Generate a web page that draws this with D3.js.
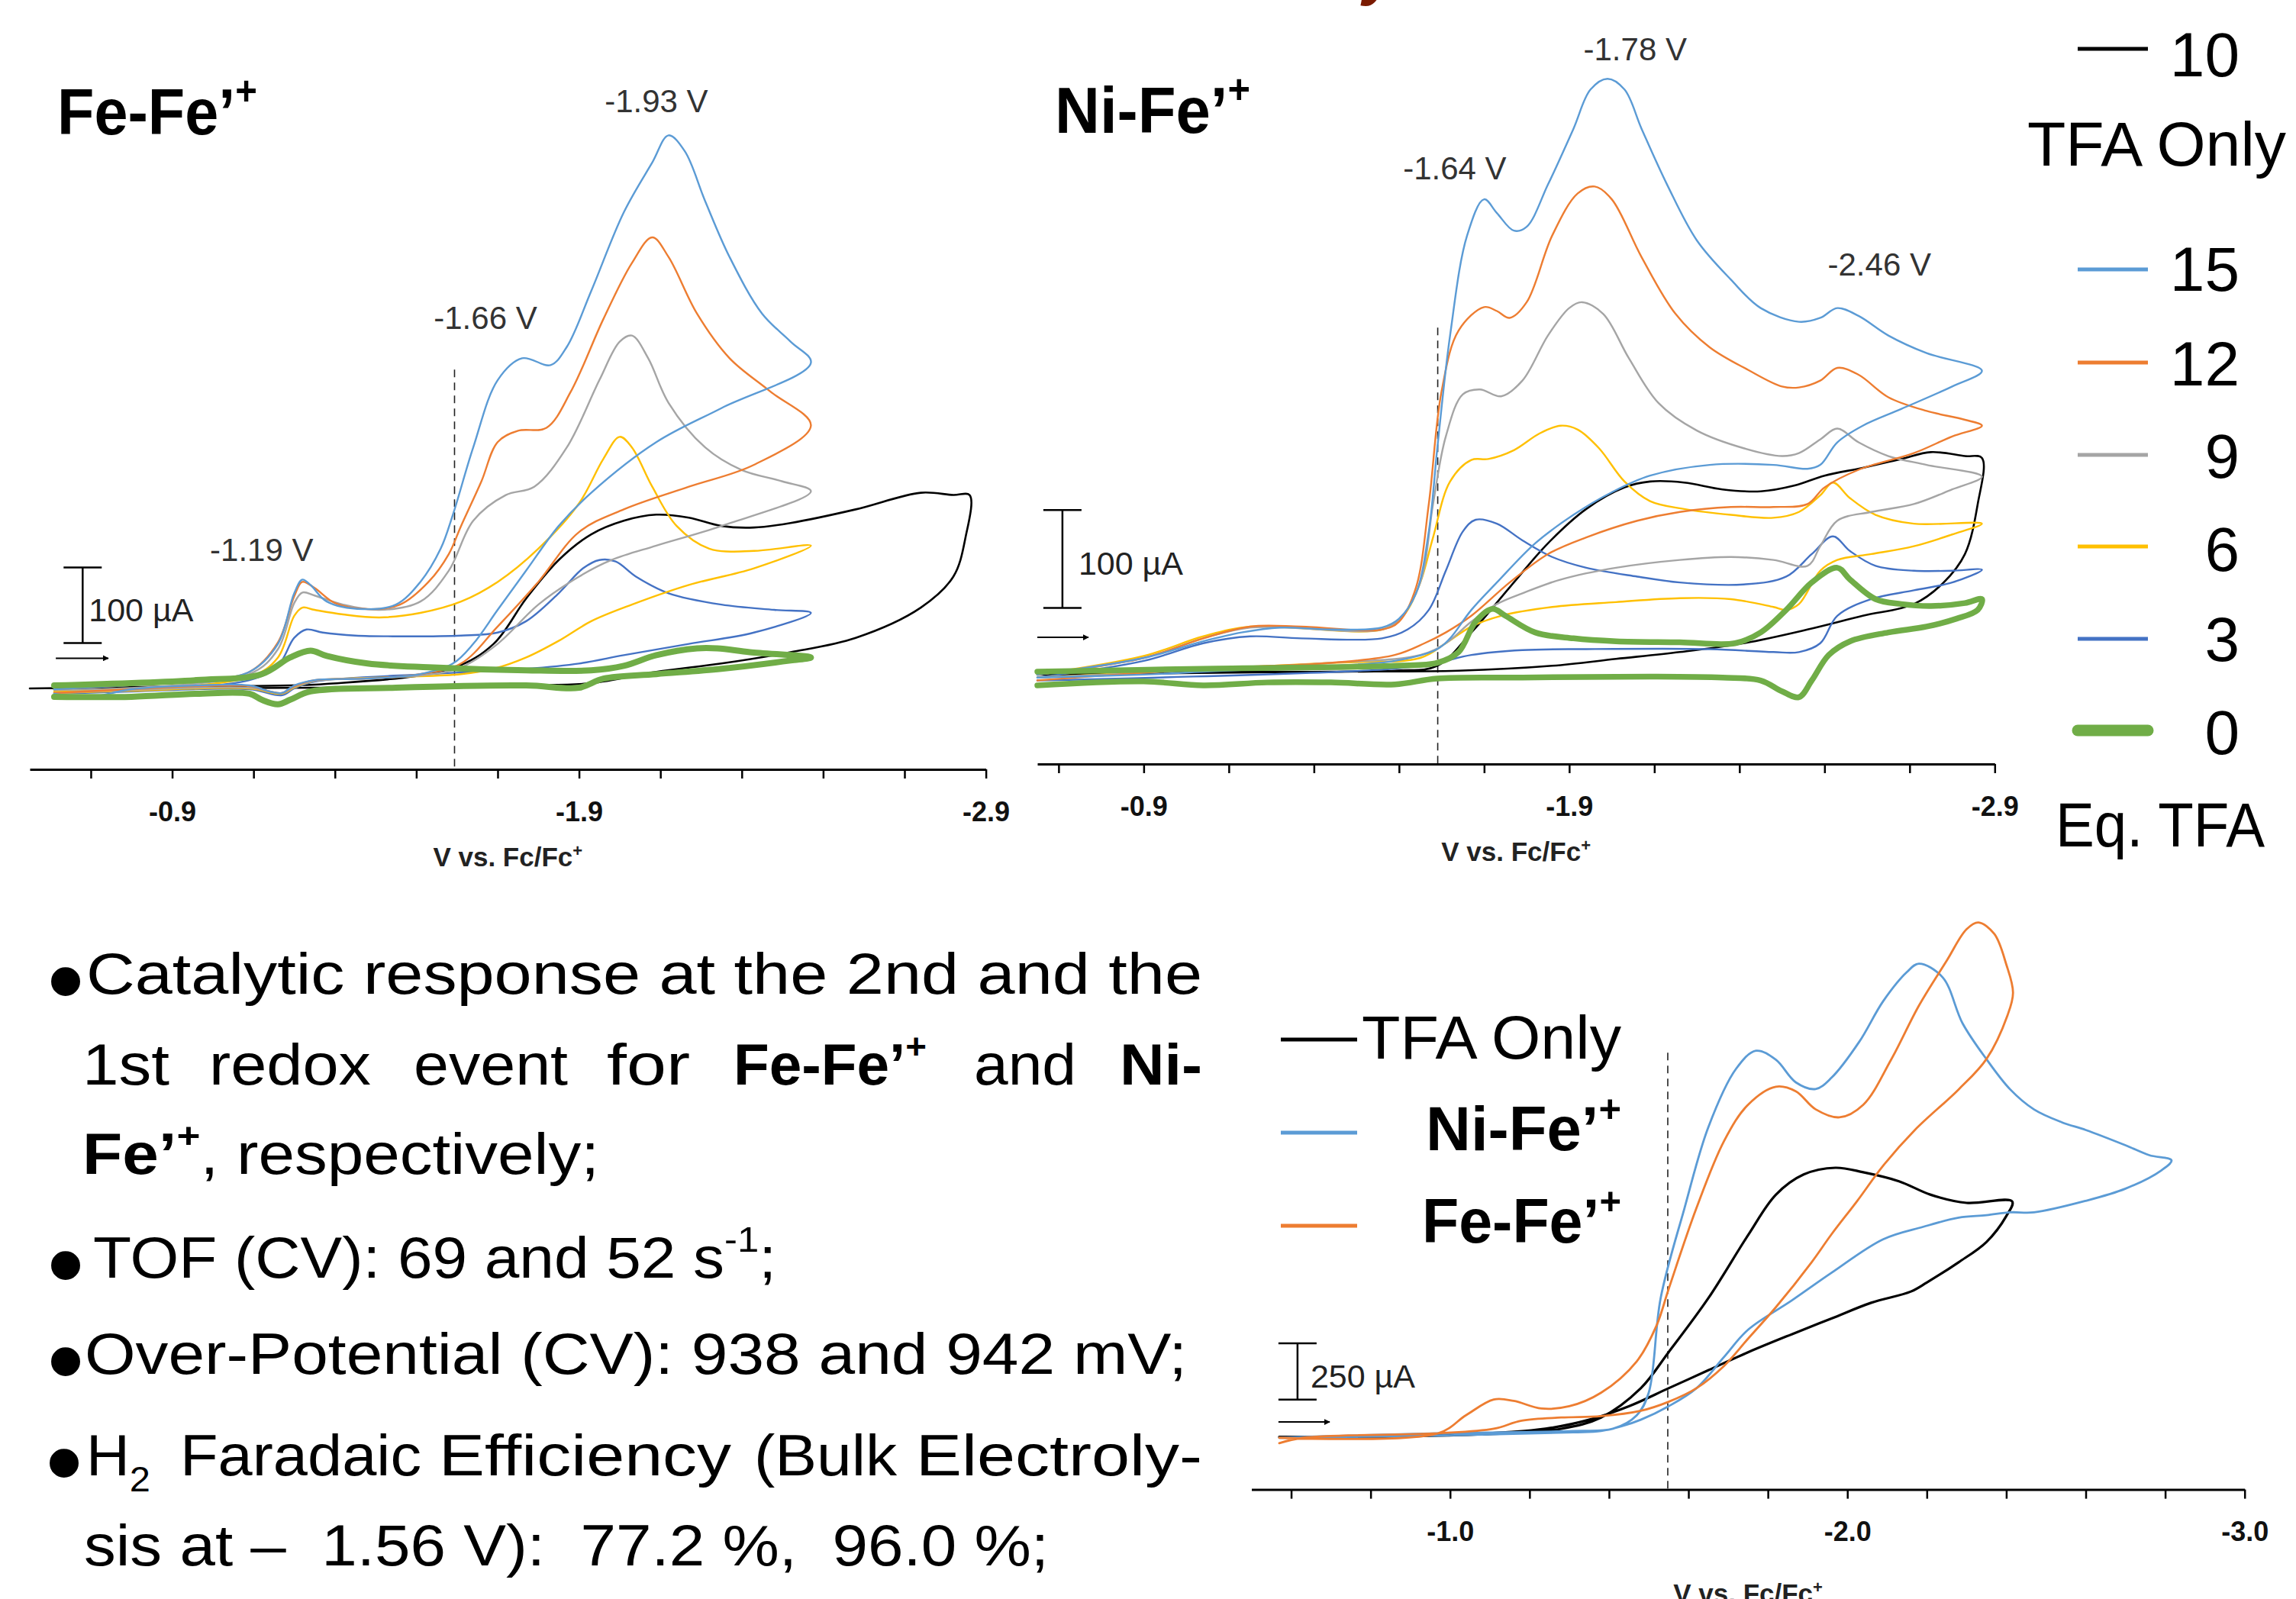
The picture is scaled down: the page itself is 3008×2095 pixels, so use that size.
<!DOCTYPE html>
<html>
<head>
<meta charset="utf-8">
<script src="https://cdn.jsdelivr.net/npm/d3@7"></script>
<style>
  body { margin: 0; background: #fff; }
  svg { display: block; }
  text { font-family: "Liberation Sans", Arial, sans-serif; }
</style>
</head>
<body>
<div id="chart"></div>
<script>
// CV traces: [potential V vs Fc/Fc+, current µA], forward scan then return scan

// Fe-Fe'+ panel
const feFeTfa = [[-0.55,0],[-0.96,3],[-1.28,6],[-1.59,27],[-1.69,59],[-1.77,119],[-1.85,170],[-1.93,204],[-2.01,222],[-2.09,230],[-2.17,226],[-2.25,215],[-2.33,213],[-2.42,219],[-2.58,237],[-2.74,259],[-2.82,256],[-2.86,256],
  [-2.85,200],[-2.82,148],[-2.74,107],[-2.58,67],[-2.42,48],[-2.25,33],[-2.09,22],[-1.93,7],[-1.77,4],[-1.59,1],[-1.28,1],[-0.61,-1]];
const feFe15 = [[-0.61,-1],[-0.96,11],[-1.09,22],[-1.16,59],[-1.20,126],[-1.22,144],[-1.24,137],[-1.28,115],[-1.37,105],[-1.45,111],[-1.51,141],[-1.56,185],[-1.59,230],[-1.64,319],[-1.70,408],[-1.76,437],[-1.83,428],[-1.87,452],[-1.93,526],[-2.01,630],[-2.08,696],[-2.12,732],[-2.16,711],[-2.21,645],[-2.27,571],[-2.35,496],[-2.42,459],[-2.47,431],
  [-2.25,371],[-2.09,326],[-1.93,259],[-1.85,215],[-1.77,156],[-1.70,104],[-1.64,59],[-1.59,33],[-1.51,19],[-1.38,13],[-1.25,11],[-1.20,4],[-1.17,-6],[-1.14,-4],[-1.09,4],[-0.96,4],[-0.80,-1],[-0.70,-11],[-0.61,-7]];
const feFe12 = [[-0.61,-1],[-0.96,11],[-1.09,22],[-1.16,61],[-1.20,122],[-1.22,141],[-1.25,133],[-1.30,113],[-1.38,105],[-1.46,111],[-1.53,141],[-1.58,178],[-1.61,215],[-1.66,274],[-1.70,326],[-1.75,341],[-1.82,345],[-1.88,393],[-1.96,489],[-2.03,563],[-2.08,597],[-2.12,571],[-2.19,496],[-2.27,437],[-2.37,393],[-2.47,348],
  [-2.33,296],[-2.17,267],[-2.01,237],[-1.90,207],[-1.80,141],[-1.70,82],[-1.61,33],[-1.51,19],[-1.38,13],[-1.25,11],[-1.20,3],[-1.17,-6],[-1.14,-4],[-1.09,3],[-0.96,3],[-0.80,-1],[-0.61,-6]];
const feFe9 = [[-0.61,-2],[-1.09,19],[-1.16,52],[-1.20,113],[-1.22,127],[-1.25,123],[-1.32,111],[-1.41,104],[-1.51,115],[-1.58,156],[-1.64,222],[-1.72,256],[-1.79,267],[-1.87,319],[-1.95,408],[-2.00,459],[-2.03,467],[-2.07,437],[-2.12,378],[-2.21,319],[-2.30,289],[-2.40,274],[-2.47,261],
  [-2.25,215],[-2.09,189],[-1.98,170],[-1.90,148],[-1.80,111],[-1.70,59],[-1.61,28],[-1.51,17],[-1.25,10],[-1.20,2],[-1.17,-6],[-1.09,1],[-0.80,-2],[-0.61,-6]];
const feFe6 = [[-0.61,-4],[-1.09,15],[-1.16,41],[-1.20,96],[-1.22,107],[-1.25,104],[-1.32,98],[-1.41,94],[-1.51,100],[-1.61,115],[-1.70,141],[-1.80,185],[-1.90,245],[-1.96,304],[-2.00,333],[-2.03,319],[-2.08,267],[-2.14,215],[-2.22,185],[-2.33,182],[-2.47,189],
  [-2.33,159],[-2.17,137],[-2.03,111],[-1.93,89],[-1.85,63],[-1.77,41],[-1.69,26],[-1.61,19],[-1.45,15],[-1.25,10],[-1.20,1],[-1.17,-7],[-1.09,0],[-0.80,-3],[-0.61,-6]];
const feFe3 = [[-0.61,-6],[-1.09,11],[-1.16,30],[-1.20,67],[-1.23,78],[-1.27,74],[-1.35,70],[-1.45,69],[-1.61,70],[-1.70,74],[-1.77,89],[-1.85,126],[-1.91,159],[-1.95,170],[-1.99,168],[-2.04,148],[-2.12,126],[-2.25,111],[-2.38,104],[-2.47,100],
  [-2.33,74],[-2.17,59],[-2.01,44],[-1.90,33],[-1.77,26],[-1.64,22],[-1.53,19],[-1.25,9],[-1.20,0],[-1.17,-9],[-1.09,-1],[-0.80,-4],[-0.61,-7]];
const feFe0 = [[-0.61,4],[-0.96,11],[-1.12,19],[-1.19,41],[-1.24,50],[-1.28,43],[-1.38,33],[-1.53,28],[-1.77,24],[-1.93,24],[-2.01,30],[-2.09,44],[-2.19,53],[-2.24,53],[-2.32,48],[-2.47,41],
  [-2.42,37],[-2.25,26],[-2.09,19],[-1.96,13],[-1.90,1],[-1.77,4],[-1.45,1],[-1.24,-4],[-1.19,-15],[-1.16,-21],[-1.12,-15],[-1.09,-7],[-0.96,-7],[-0.80,-11],[-0.61,-11]];

// Ni-Fe'+ panel
const niFeTfa = [[-0.65,-3],[-1.04,0],[-1.49,1],[-1.59,6],[-1.67,40],[-1.76,86],[-1.85,131],[-1.94,166],[-2.03,188],[-2.09,194],[-2.17,193],[-2.26,186],[-2.35,184],[-2.43,190],[-2.50,200],[-2.59,208],[-2.68,217],[-2.75,224],[-2.83,220],[-2.87,218],
  [-2.86,171],[-2.83,120],[-2.78,91],[-2.71,69],[-2.59,57],[-2.46,43],[-2.31,29],[-2.16,20],[-2.01,13],[-1.86,6],[-1.64,1],[-1.34,0],[-0.65,-3]];
const niFe15 = [[-0.65,-3],[-0.90,14],[-1.04,31],[-1.13,40],[-1.22,45],[-1.34,43],[-1.46,45],[-1.50,54],[-1.54,80],[-1.57,143],[-1.59,228],[-1.62,343],[-1.66,445],[-1.70,482],[-1.73,468],[-1.77,450],[-1.80,454],[-1.85,497],[-1.91,554],[-1.95,594],[-1.99,605],[-2.03,594],[-2.07,554],[-2.13,497],[-2.20,440],[-2.28,400],[-2.35,371],[-2.44,357],[-2.49,361],[-2.53,371],[-2.58,363],[-2.65,343],[-2.74,325],[-2.87,307],
  [-2.80,291],[-2.68,268],[-2.59,251],[-2.53,234],[-2.49,211],[-2.46,207],[-2.38,211],[-2.23,211],[-2.09,200],[-2.00,183],[-1.91,160],[-1.82,131],[-1.73,91],[-1.67,63],[-1.62,34],[-1.59,23],[-1.49,11],[-1.34,6],[-1.19,3],[-1.04,0],[-0.90,-3],[-0.65,-6]];
const niFe12 = [[-0.65,-3],[-0.90,14],[-1.04,34],[-1.15,46],[-1.27,46],[-1.46,43],[-1.50,51],[-1.54,86],[-1.57,171],[-1.60,286],[-1.64,348],[-1.70,372],[-1.73,368],[-1.76,361],[-1.80,377],[-1.86,445],[-1.92,488],[-1.96,495],[-2.00,482],[-2.07,423],[-2.15,365],[-2.23,331],[-2.32,308],[-2.40,291],[-2.44,290],[-2.49,297],[-2.53,310],[-2.58,303],[-2.65,280],[-2.74,266],[-2.83,257],[-2.87,251],
  [-2.80,240],[-2.71,223],[-2.58,206],[-2.50,188],[-2.46,171],[-2.38,168],[-2.28,168],[-2.16,163],[-2.06,154],[-1.94,137],[-1.85,120],[-1.76,91],[-1.67,57],[-1.61,40],[-1.56,29],[-1.49,17],[-1.34,9],[-1.04,3],[-0.65,-9]];
const niFe9 = [[-0.65,-3],[-0.90,14],[-1.04,34],[-1.15,45],[-1.46,43],[-1.50,53],[-1.55,91],[-1.58,171],[-1.61,240],[-1.65,283],[-1.69,288],[-1.74,281],[-1.79,297],[-1.85,343],[-1.90,371],[-1.93,377],[-1.98,365],[-2.04,320],[-2.11,274],[-2.20,246],[-2.31,228],[-2.40,220],[-2.44,223],[-2.49,237],[-2.53,248],[-2.58,234],[-2.65,220],[-2.74,211],[-2.87,199],
  [-2.80,186],[-2.71,171],[-2.61,163],[-2.53,154],[-2.49,128],[-2.46,108],[-2.38,114],[-2.28,117],[-2.16,114],[-2.01,106],[-1.88,94],[-1.79,80],[-1.73,69],[-1.67,51],[-1.61,29],[-1.55,17],[-1.34,9],[-0.65,-6]];
const niFe6 = [[-0.65,-3],[-0.90,16],[-1.04,36],[-1.15,46],[-1.46,43],[-1.51,57],[-1.55,91],[-1.58,137],[-1.62,194],[-1.67,216],[-1.71,217],[-1.77,226],[-1.83,243],[-1.88,251],[-1.92,247],[-1.97,228],[-2.03,194],[-2.09,174],[-2.17,166],[-2.28,160],[-2.38,157],[-2.44,163],[-2.49,180],[-2.52,193],[-2.56,177],[-2.62,160],[-2.71,151],[-2.87,151],
  [-2.80,140],[-2.71,128],[-2.61,120],[-2.53,114],[-2.49,103],[-2.44,69],[-2.41,63],[-2.38,66],[-2.28,74],[-2.16,75],[-2.01,71],[-1.86,66],[-1.74,57],[-1.67,46],[-1.61,29],[-1.55,14],[-1.34,9],[-0.65,-6]];
const niFe3 = [[-0.65,-6],[-0.90,11],[-1.04,29],[-1.15,36],[-1.27,34],[-1.46,34],[-1.52,43],[-1.57,63],[-1.61,103],[-1.65,143],[-1.68,155],[-1.73,151],[-1.79,134],[-1.86,117],[-1.94,106],[-2.06,97],[-2.16,91],[-2.31,89],[-2.41,97],[-2.47,120],[-2.52,138],[-2.56,123],[-2.62,108],[-2.71,103],[-2.80,103],[-2.87,104],
  [-2.80,91],[-2.71,83],[-2.61,74],[-2.53,57],[-2.49,29],[-2.44,20],[-2.38,20],[-2.23,23],[-1.94,23],[-1.79,22],[-1.67,17],[-1.59,9],[-1.49,3],[-0.65,-9]];
const niFe0 = [[-0.65,0],[-1.04,3],[-1.49,6],[-1.59,9],[-1.64,20],[-1.68,51],[-1.72,64],[-1.75,57],[-1.82,40],[-1.91,34],[-2.01,31],[-2.16,30],[-2.29,29],[-2.35,40],[-2.41,63],[-2.47,91],[-2.53,106],[-2.56,94],[-2.62,74],[-2.68,69],[-2.75,67],[-2.83,70],[-2.87,74],
  [-2.86,63],[-2.81,54],[-2.74,46],[-2.65,40],[-2.56,31],[-2.51,17],[-2.47,-9],[-2.44,-26],[-2.40,-20],[-2.35,-9],[-2.26,-6],[-2.09,-5],[-1.79,-6],[-1.59,-7],[-1.49,-13],[-1.34,-11],[-1.19,-11],[-1.04,-14],[-0.90,-10],[-0.65,-14]];

// comparison panel (bottom right)
const cmpTfa = [[-0.57,-6],[-0.97,0],[-1.14,10],[-1.28,30],[-1.38,80],[-1.48,210],[-1.55,370],[-1.65,610],[-1.75,890],[-1.82,1070],[-1.89,1160],[-1.97,1190],[-2.04,1170],[-2.13,1130],[-2.21,1070],[-2.30,1034],[-2.415,1040],
  [-2.40,975],[-2.35,860],[-2.28,770],[-2.20,680],[-2.16,640],[-2.06,590],[-1.96,520],[-1.86,450],[-1.75,370],[-1.65,290],[-1.55,210],[-1.45,130],[-1.35,70],[-1.24,30],[-1.14,14],[-0.97,0],[-0.57,-6]];
const cmpNiFe = [[-0.57,-10],[-0.97,10],[-1.31,20],[-1.41,30],[-1.47,90],[-1.50,190],[-1.53,610],[-1.59,1010],[-1.65,1370],[-1.72,1630],[-1.77,1710],[-1.82,1670],[-1.87,1570],[-1.92,1540],[-1.96,1590],[-2.03,1750],[-2.09,1930],[-2.15,2060],[-2.18,2097],[-2.24,2036],[-2.29,1832],[-2.35,1673],[-2.41,1538],[-2.47,1449],[-2.54,1392],[-2.60,1358],[-2.70,1290],[-2.76,1246],[-2.816,1223],
  [-2.79,1178],[-2.70,1097],[-2.60,1043],[-2.47,992],[-2.41,992],[-2.35,979],[-2.28,968],[-2.19,927],[-2.09,872],[-1.96,723],[-1.86,600],[-1.75,470],[-1.69,350],[-1.62,210],[-1.55,130],[-1.48,70],[-1.43,40],[-1.38,20],[-1.31,14],[-0.97,0],[-0.57,-10]];
const cmpFeFe = [[-0.57,-10],[-0.97,10],[-1.04,90],[-1.11,160],[-1.16,154],[-1.23,120],[-1.30,130],[-1.38,190],[-1.47,330],[-1.52,490],[-1.55,650],[-1.62,1010],[-1.69,1310],[-1.75,1470],[-1.82,1550],[-1.87,1530],[-1.92,1450],[-1.98,1414],[-2.04,1470],[-2.11,1670],[-2.18,1910],[-2.25,2110],[-2.30,2250],[-2.33,2280],[-2.37,2229],[-2.40,2094],[-2.417,1968],
  [-2.403,1867],[-2.35,1673],[-2.28,1538],[-2.17,1358],[-2.09,1199],[-2.025,1043],[-1.96,894],[-1.91,770],[-1.82,570],[-1.75,430],[-1.69,310],[-1.62,210],[-1.55,150],[-1.48,110],[-1.38,86],[-1.28,80],[-1.18,66],[-1.11,30],[-0.97,10],[-0.63,-10],[-0.57,-34]];

// ticks
const cvTicks = [-0.7,-0.9,-1.1,-1.3,-1.5,-1.7,-1.9,-2.1,-2.3,-2.5,-2.7,-2.9];
const cvLabels = [-0.9,-1.9,-2.9];
const cmpTicks = [-0.6,-0.8,-1.0,-1.2,-1.4,-1.6,-1.8,-2.0,-2.2,-2.4,-2.6,-2.8,-3.0];
const cmpLabels = [-1.0,-2.0,-3.0];

// peak labels: [text, V, µA]
const feFeNotes = [["-1.93 V",-2.09,763],["-1.66 V",-1.67,476],["-1.19 V",-1.12,169]];
const niFeNotes = [["-1.78 V",-2.055,624],["-1.64 V",-1.631,502],["-2.46 V",-2.629,404]];

// legend
const eqLabels = ["10","15","12","9","6","3","0"];
const eqColors = ["#000000","#5b9bd5","#ed7d31","#a5a5a5","#ffc000","#4472c4","#70ad47"];

const FONT = '"Liberation Sans", Arial, sans-serif';
const W = 3008, H = 2095;

var svg = d3.select("#chart").append("svg")
  .attr("width", W).attr("height", H)
  .style("background", "#fff");

svg.append("defs").append("marker")
  .attr("id", "head").attr("viewBox", "0 0 10 10")
  .attr("refX", 9).attr("refY", 5)
  .attr("markerWidth", 8).attr("markerHeight", 8)
  .attr("markerUnits", "userSpaceOnUse")
  .attr("orient", "auto")
  .append("path").attr("d", "M0,0L10,5L0,10z").attr("fill", "#000");

function series(data, color, width) { return { values: data, color: color, width: width }; }

var panels = [
  {
    x: d3.scaleLinear().domain([-0.55, -2.9]).range([39, 1291.6]),
    y: d3.scaleLinear().domain([0, 100]).range([902, 803]),
    axisY: 1008, titleY: 1135,
    ticks: cvTicks, labels: cvLabels,
    series: [series(feFeTfa, eqColors[0], 2.6), series(feFe3, eqColors[5], 2.4), series(feFe6, eqColors[4], 2.4),
             series(feFe9, eqColors[3], 2.4), series(feFe12, eqColors[2], 2.4), series(feFe15, eqColors[1], 2.4),
             series(feFe0, eqColors[6], 8)],
    dash: [-1.594, 422], bar: [-0.68, 60, 160], barText: "100 µA", barGap: 8,
    arrow: [-0.614, -0.743, 40], notes: feFeNotes
  },
  {
    x: d3.scaleLinear().domain([-0.65, -2.9]).range([1359, 2613.3]),
    y: d3.scaleLinear().domain([0, 100]).range([880, 751.6]),
    axisY: 1001, titleY: 1128,
    ticks: cvTicks, labels: cvLabels,
    series: [series(niFeTfa, eqColors[0], 2.6), series(niFe3, eqColors[5], 2.4), series(niFe6, eqColors[4], 2.4),
             series(niFe9, eqColors[3], 2.4), series(niFe12, eqColors[2], 2.4), series(niFe15, eqColors[1], 2.4),
             series(niFe0, eqColors[6], 7.5)],
    dash: [-1.591, 351], bar: [-0.709, 65, 165], barText: "100 µA", barGap: 21,
    arrow: [-0.65, -0.77, 35], notes: niFeNotes
  },
  {
    x: d3.scaleLinear().domain([-0.5, -3.0]).range([1639.5, 2940.7]),
    y: d3.scaleLinear().domain([0, 250]).range([1880.8, 1807.1]),
    axisY: 1951.6, titleY: 2100,
    ticks: cmpTicks, labels: cmpLabels,
    series: [series(cmpTfa, "#000000", 3.2), series(cmpNiFe, "#5b9bd5", 2.8), series(cmpFeFe, "#ed7d31", 2.8)],
    dash: [-1.548, 1701], bar: [-0.616, 160, 410], barText: "250 µA", barGap: 17,
    arrow: [-0.568, -0.697, 60], notes: []
  }
];

panels.forEach(function (p) {
  var g = svg.append("g");

  var line = d3.line()
    .x(function (d) { return p.x(d[0]); })
    .y(function (d) { return p.y(d[1]); })
    .curve(d3.curveCatmullRom.alpha(0.5));

  // dashed onset marker
  g.append("line")
    .attr("x1", p.x(p.dash[0])).attr("x2", p.x(p.dash[0]))
    .attr("y1", p.y(p.dash[1])).attr("y2", p.axisY)
    .attr("stroke", "#222").attr("stroke-width", 1.6)
    .attr("stroke-dasharray", "10,7");

  g.selectAll("path.cv")
    .data(p.series)
    .enter()
    .append("path")
    .attr("class", "cv")
    .attr("d", function (d) { return line(d.values); })
    .attr("fill", "none")
    .attr("stroke", function (d) { return d.color; })
    .attr("stroke-width", function (d) { return d.width; })
    .attr("stroke-linejoin", "round")
    .attr("stroke-linecap", "round");

  var axis = d3.axisBottom(p.x)
    .tickValues(p.ticks)
    .tickSize(12)
    .tickSizeOuter(0)
    .tickFormat(function (d) { return p.labels.indexOf(d) >= 0 ? d.toFixed(1) : ""; });

  var ag = g.append("g")
    .attr("transform", "translate(0," + p.axisY + ")")
    .call(axis);
  ag.select(".domain").attr("stroke-width", 3);
  ag.selectAll(".tick line").attr("stroke-width", 2.5);
  ag.selectAll(".tick text")
    .attr("y", 55).attr("dy", "0.35em")
    .attr("font-family", FONT).attr("font-size", 36).attr("font-weight", "bold")
    .attr("fill", "#111");

  var mid = (p.x.range()[0] + p.x.range()[1]) / 2;
  var t = g.append("text")
    .attr("x", mid).attr("y", p.titleY)
    .attr("text-anchor", "middle")
    .attr("font-size", 35).attr("font-weight", "bold").attr("fill", "#222");
  t.append("tspan").text("V vs. Fc/Fc");
  t.append("tspan").text("+").attr("font-size", 22).attr("dy", -13);

  // current scale bar
  var bx = p.x(p.bar[0]);
  g.append("line").attr("x1", bx).attr("x2", bx)
    .attr("y1", p.y(p.bar[1])).attr("y2", p.y(p.bar[2]))
    .attr("stroke", "#000").attr("stroke-width", 2.5);
  [p.bar[1], p.bar[2]].forEach(function (v) {
    g.append("line").attr("x1", bx - 25).attr("x2", bx + 25)
      .attr("y1", p.y(v)).attr("y2", p.y(v))
      .attr("stroke", "#000").attr("stroke-width", 2.5);
  });
  g.append("text")
    .attr("x", bx + p.barGap)
    .attr("y", p.y((p.bar[1] + p.bar[2]) / 2) + 6)
    .attr("dominant-baseline", "central")
    .attr("font-size", 43).attr("fill", "#222")
    .text(p.barText);

  // scan direction arrow
  g.append("line")
    .attr("x1", p.x(p.arrow[0])).attr("x2", p.x(p.arrow[1]))
    .attr("y1", p.y(p.arrow[2])).attr("y2", p.y(p.arrow[2]))
    .attr("stroke", "#000").attr("stroke-width", 2)
    .attr("marker-end", "url(#head)");

  g.selectAll("text.note")
    .data(p.notes)
    .enter()
    .append("text")
    .attr("class", "note")
    .attr("x", function (d) { return p.x(d[1]); })
    .attr("y", function (d) { return p.y(d[2]); })
    .attr("text-anchor", "middle")
    .attr("font-size", 42).attr("fill", "#333")
    .text(function (d) { return d[0]; });
});

// text with bold / superscript / subscript parts
function rich(x, y, len, size, parts, anchor) {
  var t = svg.append("text")
    .attr("x", x).attr("y", y)
    .attr("font-size", size)
    .attr("fill", "#000")
    .attr("xml:space", "preserve")
    .style("white-space", "pre");
  if (anchor) t.attr("text-anchor", anchor);
  if (len) t.attr("textLength", len).attr("lengthAdjust", "spacingAndGlyphs");
  var shift = 0;
  parts.forEach(function (p) {
    var target = p.sup ? -size * 0.45 : (p.sub ? size * 0.28 : 0);
    var s = t.append("tspan").text(p.t).attr("dy", target - shift);
    shift = target;
    if (p.sup || p.sub) s.attr("font-size", size * 0.62);
    if (p.b) s.attr("font-weight", "bold");
  });
  return t;
}

// panel titles
rich(75, 176, 262, 86, [{ t: "Fe-Fe’", b: 1 }, { t: "+", b: 1, sup: 1 }]);
rich(1382, 174, 256, 86, [{ t: "Ni-Fe’", b: 1 }, { t: "+", b: 1, sup: 1 }]);

// cut-off slide title descender
svg.append("text")
  .attr("x", 1808).attr("y", -9)
  .attr("text-anchor", "middle")
  .attr("font-size", 80).attr("font-weight", "bold").attr("font-style", "italic")
  .attr("fill", "#7a1a00")
  .text("y");

// equivalents legend
var legY = [64, 353, 475, 596, 716, 837, 957];
var legBase = [100, 381, 505, 626, 748, 866, 988];
eqLabels.forEach(function (lab, i) {
  svg.append("line")
    .attr("x1", 2722).attr("x2", 2814)
    .attr("y1", legY[i]).attr("y2", legY[i])
    .attr("stroke", eqColors[i])
    .attr("stroke-width", i === 6 ? 15 : 5)
    .attr("stroke-linecap", i === 6 ? "round" : "butt");
  svg.append("text")
    .attr("x", 2934).attr("y", legBase[i])
    .attr("text-anchor", "end")
    .attr("font-size", 82).attr("fill", "#000")
    .text(lab);
});
rich(2656, 217, 339, 82, [{ t: "TFA Only" }]);
rich(2693, 1109, 274, 82, [{ t: "Eq. TFA" }]);

// comparison legend
[["#000000", 1362], ["#5b9bd5", 1484], ["#ed7d31", 1606]].forEach(function (d) {
  svg.append("line")
    .attr("x1", 1678).attr("x2", 1778)
    .attr("y1", d[1]).attr("y2", d[1])
    .attr("stroke", d[0]).attr("stroke-width", 5);
});
rich(1784, 1387, 340, 80, [{ t: "TFA Only" }]);
rich(1868, 1507, 256, 82, [{ t: "Ni-Fe’", b: 1 }, { t: "+", b: 1, sup: 1 }]);
rich(1863, 1628, 261, 82, [{ t: "Fe-Fe’", b: 1 }, { t: "+", b: 1, sup: 1 }]);

// bullet points
var FS = 76;
function bullet(cx, base) {
  svg.append("text")
    .attr("x", cx).attr("y", base + 30)
    .attr("text-anchor", "middle")
    .attr("font-size", 140)
    .text("•");
}
bullet(86, 1302);
rich(113, 1302, 1462, FS, [{ t: "Catalytic response at the 2nd and the" }]);

[["1st", 108, 222], ["redox", 274, 486], ["event", 542, 744], ["for", 795, 904], ["and", 1276, 1410]].forEach(function (w) {
  rich(w[1], 1421, w[2] - w[1], FS, [{ t: w[0] }]);
});
rich(961, 1421, 253, FS, [{ t: "Fe-Fe’", b: 1 }, { t: "+", b: 1, sup: 1 }]);
rich(1467, 1421, 108, FS, [{ t: "Ni-", b: 1 }]);

rich(108, 1538, 677, FS, [{ t: "Fe’", b: 1 }, { t: "+", b: 1, sup: 1 }, { t: ", respectively;" }]);

bullet(86, 1674);
rich(122, 1674, 895, FS, [{ t: "TOF (CV): 69 and 52 s" }, { t: "-1", sup: 1 }, { t: ";" }]);

bullet(86, 1800);
rich(111, 1800, 1444, FS, [{ t: "Over-Potential (CV): 938 and 942 mV;" }]);

bullet(84, 1933);
rich(113, 1933, 84, FS, [{ t: "H" }, { t: "2", sub: 1 }]);
[["Faradaic", 236, 552], ["Efficiency", 575, 958], ["(Bulk", 988, 1175], ["Electroly-", 1200, 1575]].forEach(function (w) {
  rich(w[1], 1933, w[2] - w[1], FS, [{ t: w[0] }]);
});
rich(110, 2051, 1264, FS, [{ t: "sis at –  1.56 V):  77.2 %,  96.0 %;" }]);
</script>
</body>
</html>
